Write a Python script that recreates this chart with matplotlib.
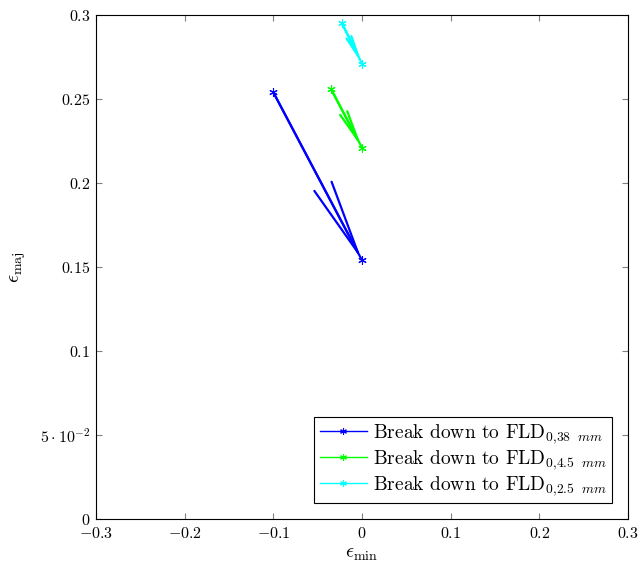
import numpy as np
import matplotlib
matplotlib.use('Agg')
import matplotlib.pyplot as plt

# data: each series is an arrow from start to end point
labels = [r'Break down to FLD$_{0{,}38\ \ mm}$',
          r'Break down to FLD$_{0{,}4.5\ \ mm}$',
          r'Break down to FLD$_{0{,}2.5\ \ mm}$']
min_start = [-0.1, -0.035, -0.0225]
maj_start = [0.254, 0.256, 0.295]
min_end = [0.0, 0.0, 0.0]
maj_end = [0.154, 0.221, 0.271]

x_ticks = [-0.3, -0.2, -0.1, 0.0, 0.1, 0.2, 0.3]
x_tick_labels = ['$-0.3$', '$-0.2$', '$-0.1$', '$0$', '$0.1$', '$0.2$', '$0.3$']
y_ticks = [0.0, 0.05, 0.1, 0.15, 0.2, 0.25, 0.3]
y_tick_labels = ['$0$', r'$5\cdot10^{-2}$', '$0.1$', '$0.15$', '$0.2$', '$0.25$', '$0.3$']

colors = ['#0000ff', '#00ff00', '#00ffff']
head_len = [54, 22, 15]  # points

plt.rcParams['mathtext.fontset'] = 'cm'
plt.rcParams['font.family'] = 'serif'
plt.rcParams['font.serif'] = ['cmr10', 'DejaVu Serif']
plt.rcParams['axes.formatter.use_mathtext'] = True

fig = plt.figure(figsize=(6.42, 5.69), dpi=100)
ax = fig.add_axes([96 / 642, 50 / 569, 532 / 642, 504 / 569])

for i in range(len(labels)):
    ax.plot([min_start[i], min_end[i]], [maj_start[i], maj_end[i]],
            color=colors[i], lw=1.6, marker=(6, 2, 0), markersize=6,
            markeredgewidth=0.8, label=labels[i])
    hl = head_len[i]
    ax.annotate('', xy=(min_end[i], maj_end[i]), xytext=(min_start[i], maj_start[i]),
                arrowprops=dict(arrowstyle='->,head_length=%g,head_width=%g' % (hl, hl * 0.13),
                                color=colors[i], lw=1.6, mutation_scale=1,
                                shrinkA=0, shrinkB=0))

ax.set_xlim(-0.3, 0.3)
ax.set_ylim(0, 0.3)
ax.set_xticks(x_ticks)
ax.set_xticklabels(x_tick_labels, fontsize=11.5)
ax.set_yticks(y_ticks)
ax.set_yticklabels(y_tick_labels, fontsize=11.5)
ax.tick_params(direction='in', length=4, color='#808080', top=True, right=True, pad=4)
ax.tick_params(axis='x', pad=5)
for s in ax.spines.values():
    s.set_linewidth(0.8)

ax.set_xlabel(r'$\epsilon_{\mathrm{min}}$', fontsize=14.5, labelpad=3)
ax.set_ylabel(r'$\epsilon_{\mathrm{maj}}$', fontsize=14.5, labelpad=9)

leg = ax.legend(loc='lower right', numpoints=1, fontsize=14, fancybox=False,
                edgecolor='black', framealpha=1, handlelength=2.4,
                borderaxespad=0.8, labelspacing=0.1, borderpad=0.3,
                handletextpad=0.3, markerscale=0.8)
leg.get_frame().set_linewidth(0.8)
for h in leg.get_lines():
    h.set_linewidth(1.0)

fig.savefig('out.png', dpi=100)
